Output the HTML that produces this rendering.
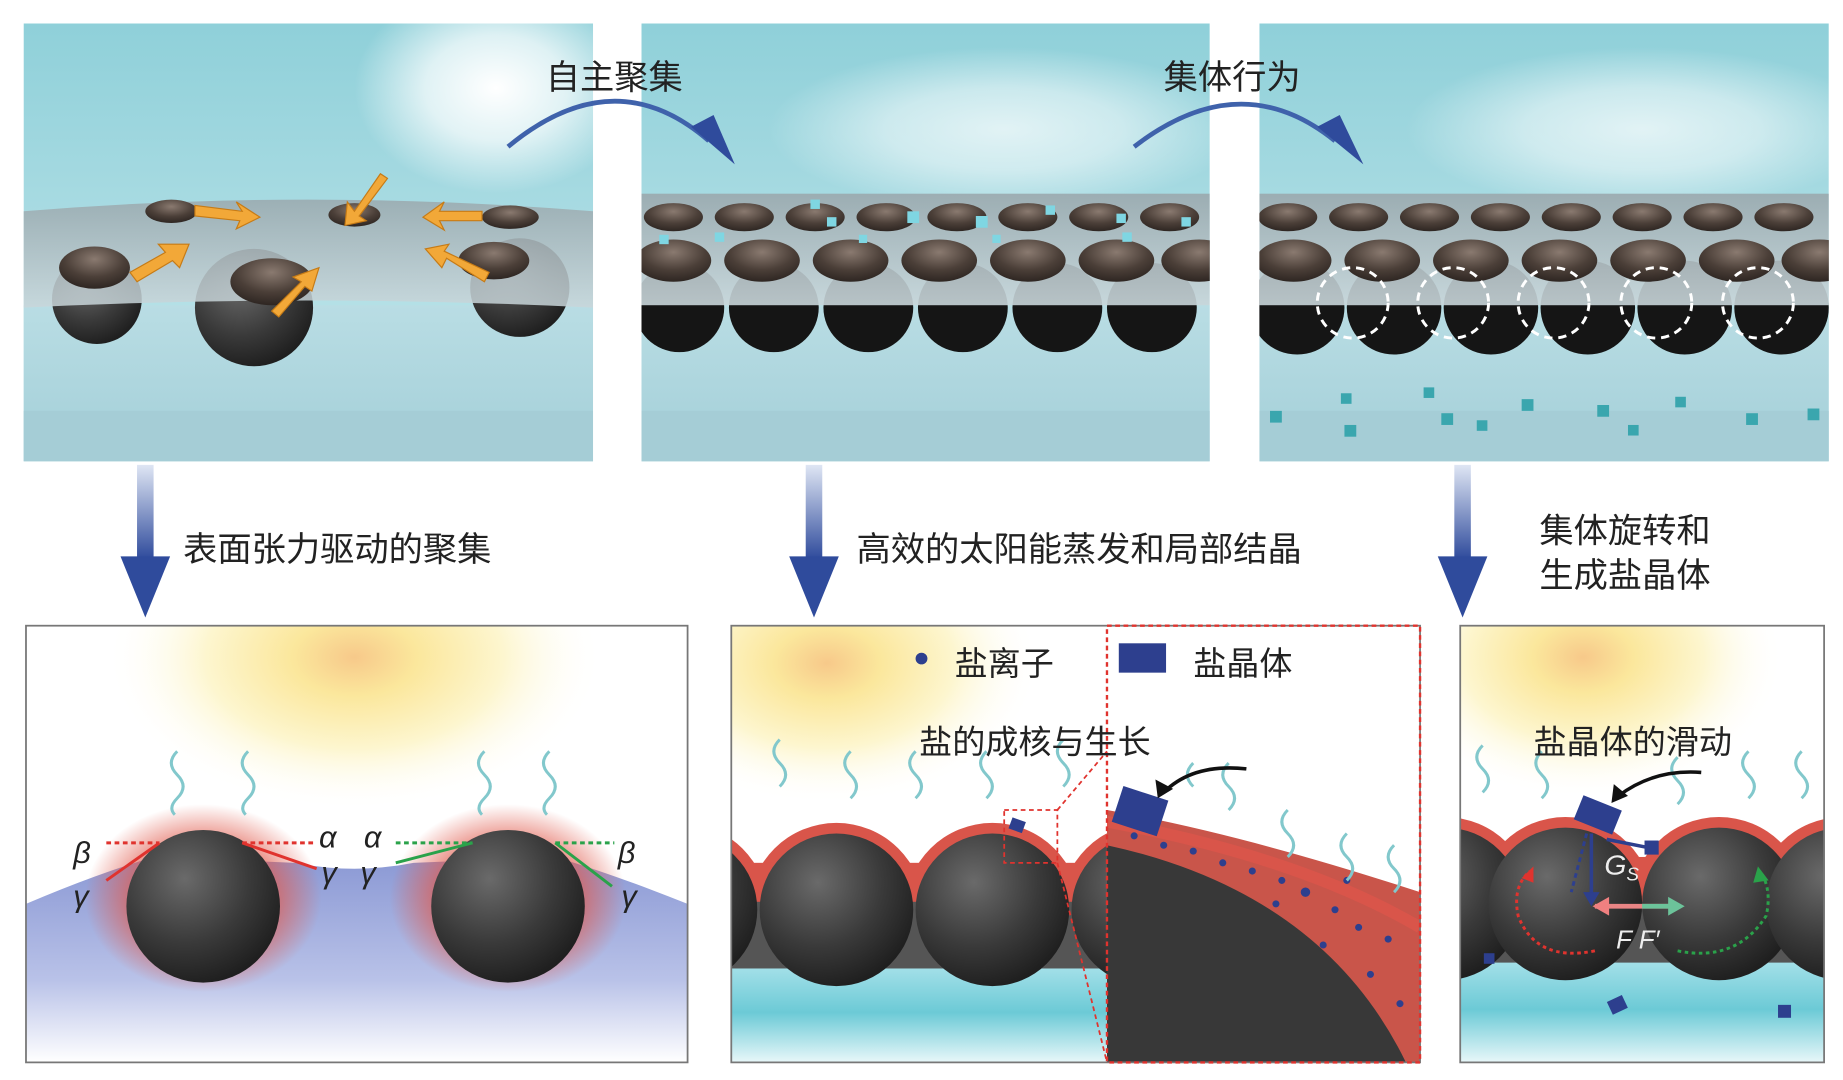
<!DOCTYPE html>
<html><head><meta charset="utf-8"><style>
html,body{margin:0;padding:0;background:#fff;width:1843px;height:1080px;overflow:hidden}
svg{display:block}
text{font-family:"Liberation Sans","Noto Sans CJK SC",sans-serif;fill:#222}
</style></head><body>
<svg width="1843" height="1080" viewBox="0 0 1560 920" preserveAspectRatio="none" xmlns="http://www.w3.org/2000/svg">
<defs>
<linearGradient id="sky" x1="0" y1="0" x2="0" y2="1"><stop offset="0" stop-color="#8fd0d9"/><stop offset="1" stop-color="#c9e9ee"/></linearGradient>
<radialGradient id="glow" cx="0.5" cy="0.5" r="0.5"><stop offset="0" stop-color="#fff" stop-opacity="1"/><stop offset="0.5" stop-color="#fff" stop-opacity="0.7"/><stop offset="1" stop-color="#fff" stop-opacity="0"/></radialGradient>
<linearGradient id="under" x1="0" y1="0" x2="0" y2="1"><stop offset="0" stop-color="#b9dde4"/><stop offset="1" stop-color="#a3cfd8"/></linearGradient>
<linearGradient id="band" x1="0" y1="0" x2="0" y2="1"><stop offset="0" stop-color="#9aa8ad"/><stop offset="1" stop-color="#c9d6da"/></linearGradient>
<radialGradient id="ball" cx="0.38" cy="0.32" r="0.7"><stop offset="0" stop-color="#6a6a6a"/><stop offset="0.6" stop-color="#3a3a3a"/><stop offset="1" stop-color="#1f1f1f"/></radialGradient>
<radialGradient id="dome" cx="0.5" cy="0.3" r="0.7"><stop offset="0" stop-color="#8a7a70"/><stop offset="0.6" stop-color="#4b3f38"/><stop offset="1" stop-color="#2e2622"/></radialGradient>
<radialGradient id="sun" cx="0.5" cy="0.5" r="0.5"><stop offset="0" stop-color="#f7c98a"/><stop offset="0.25" stop-color="#fbe79c"/><stop offset="0.6" stop-color="#fdf6cf"/><stop offset="1" stop-color="#fff" stop-opacity="0"/></radialGradient>
<linearGradient id="bw" x1="0" y1="0" x2="0" y2="1"><stop offset="0" stop-color="#8a98d4"/><stop offset="0.6" stop-color="#b9c2e8"/><stop offset="1" stop-color="#fff"/></linearGradient>
<linearGradient id="cy" x1="0" y1="0" x2="0" y2="1"><stop offset="0" stop-color="#a9e2ea"/><stop offset="0.5" stop-color="#6ccad6"/><stop offset="1" stop-color="#e8f7f9"/></linearGradient>
<radialGradient id="redg" cx="0.5" cy="0.5" r="0.5"><stop offset="0.55" stop-color="#e0584a" stop-opacity="0.8"/><stop offset="1" stop-color="#e0584a" stop-opacity="0"/></radialGradient>
<linearGradient id="darr" x1="0" y1="0" x2="0" y2="1"><stop offset="0" stop-color="#dfe6f4"/><stop offset="1" stop-color="#2f4b9c"/></linearGradient>
<clipPath id="c1"><rect x="20" y="20" width="482" height="373"/></clipPath>
<clipPath id="c2"><rect x="543" y="20" width="481" height="373"/></clipPath>
<clipPath id="c3"><rect x="1066" y="20" width="482" height="373"/></clipPath>
<clipPath id="b1"><rect x="22" y="533" width="560" height="372"/></clipPath>
<clipPath id="b2"><rect x="619" y="533" width="318" height="372"/></clipPath>
<clipPath id="b2z"><rect x="937" y="533" width="265" height="372"/></clipPath>
<clipPath id="b3"><rect x="1236" y="533" width="308" height="372"/></clipPath>
<clipPath id="top"><rect x="0" y="600" width="1560" height="168"/></clipPath>
</defs>

<g clip-path="url(#c1)">
<rect x="20" y="20" width="482" height="373" fill="url(#sky)"/>
<ellipse cx="420" cy="75" rx="120" ry="90" fill="url(#glow)"/>
<rect x="20" y="260" width="482" height="133" fill="url(#under)"/>
<rect x="20" y="350" width="482" height="43" fill="#a5cdd6"/>
<circle cx="82" cy="255" r="38" fill="url(#ball)"/>
<circle cx="215" cy="262" r="50" fill="url(#ball)"/>
<circle cx="440" cy="245" r="42" fill="url(#ball)"/>
<path d="M20 180 Q260 160 502 180 L502 262 Q260 250 20 262Z" fill="url(#band)" opacity="0.85"/>
<ellipse cx="145" cy="180" rx="22" ry="10" fill="url(#dome)"/>
<ellipse cx="300" cy="183" rx="22" ry="10" fill="url(#dome)"/>
<ellipse cx="432" cy="185" rx="24" ry="10" fill="url(#dome)"/>
<ellipse cx="80" cy="228" rx="30" ry="18" fill="url(#dome)"/>
<ellipse cx="230" cy="240" rx="35" ry="20" fill="url(#dome)"/>
<ellipse cx="418" cy="222" rx="30" ry="16" fill="url(#dome)"/>
<g fill="#f2a838" stroke="#c67b16" stroke-width="1">
<path d="M165 175 L205 180 L200 172 L220 185 L200 195 L203 188 L165 184Z"/>
<path d="M322 148 L300 180 L294 172 L292 192 L310 188 L304 184 L328 152Z"/>
<path d="M408 180 L372 180 L376 172 L358 185 L376 196 L372 188 L408 188Z"/>
<path d="M110 232 L140 215 L134 208 L160 208 L152 228 L146 222 L116 240Z"/>
<path d="M230 265 L255 240 L248 236 L270 228 L264 248 L258 244 L236 270Z"/>
<path d="M410 240 L378 220 L374 228 L360 212 L380 208 L376 214 L414 232Z"/>
</g>
</g>

<g clip-path="url(#c2)">
<rect x="543" y="20" width="481" height="373" fill="url(#sky)"/>
<ellipse cx="850" cy="110" rx="200" ry="70" fill="url(#glow)" opacity="0.7"/>
<rect x="543" y="260" width="481" height="133" fill="url(#under)"/>
<rect x="543" y="350" width="481" height="43" fill="#a5cdd6"/>
<g fill="#151515">
<circle cx="575" cy="262" r="38"/><circle cx="655" cy="262" r="38"/><circle cx="735" cy="262" r="38"/><circle cx="815" cy="262" r="38"/><circle cx="895" cy="262" r="38"/><circle cx="975" cy="262" r="38"/>
</g>
<rect x="543" y="165" width="481" height="95" fill="url(#band)" opacity="0.9"/>
<g fill="url(#dome)">
<ellipse cx="570" cy="185" rx="25" ry="12"/><ellipse cx="630" cy="185" rx="25" ry="12"/><ellipse cx="690" cy="185" rx="25" ry="12"/><ellipse cx="750" cy="185" rx="25" ry="12"/><ellipse cx="810" cy="185" rx="25" ry="12"/><ellipse cx="870" cy="185" rx="25" ry="12"/><ellipse cx="930" cy="185" rx="25" ry="12"/><ellipse cx="990" cy="185" rx="25" ry="12"/>
<ellipse cx="570" cy="222" rx="32" ry="18"/><ellipse cx="645" cy="222" rx="32" ry="18"/><ellipse cx="720" cy="222" rx="32" ry="18"/><ellipse cx="795" cy="222" rx="32" ry="18"/><ellipse cx="870" cy="222" rx="32" ry="18"/><ellipse cx="945" cy="222" rx="32" ry="18"/><ellipse cx="1015" cy="222" rx="32" ry="18"/>
</g>
<g fill="#7fd6e2"><rect x="558" y="200" width="8" height="8"/><rect x="605" y="198" width="8" height="8"/><rect x="686" y="170" width="8" height="8"/><rect x="700" y="185" width="8" height="8"/><rect x="768" y="180" width="10" height="10"/><rect x="826" y="184" width="10" height="10"/><rect x="885" y="175" width="8" height="8"/><rect x="945" y="182" width="8" height="8"/><rect x="1000" y="185" width="8" height="8"/><rect x="727" y="200" width="7" height="7"/><rect x="950" y="198" width="8" height="8"/><rect x="840" y="200" width="7" height="7"/></g>
</g>

<g clip-path="url(#c3)">
<rect x="1066" y="20" width="482" height="373" fill="url(#sky)"/>
<ellipse cx="1390" cy="110" rx="200" ry="70" fill="url(#glow)" opacity="0.7"/>
<rect x="1066" y="260" width="482" height="133" fill="url(#under)"/>
<rect x="1066" y="350" width="482" height="43" fill="#a5cdd6"/>
<g fill="#151515">
<circle cx="1098" cy="262" r="40"/><circle cx="1180" cy="262" r="40"/><circle cx="1262" cy="262" r="40"/><circle cx="1344" cy="262" r="40"/><circle cx="1426" cy="262" r="40"/><circle cx="1508" cy="262" r="40"/>
</g>
<rect x="1066" y="165" width="482" height="95" fill="url(#band)" opacity="0.9"/>
<g fill="url(#dome)">
<ellipse cx="1090" cy="185" rx="25" ry="12"/><ellipse cx="1150" cy="185" rx="25" ry="12"/><ellipse cx="1210" cy="185" rx="25" ry="12"/><ellipse cx="1270" cy="185" rx="25" ry="12"/><ellipse cx="1330" cy="185" rx="25" ry="12"/><ellipse cx="1390" cy="185" rx="25" ry="12"/><ellipse cx="1450" cy="185" rx="25" ry="12"/><ellipse cx="1510" cy="185" rx="25" ry="12"/>
<ellipse cx="1095" cy="222" rx="32" ry="18"/><ellipse cx="1170" cy="222" rx="32" ry="18"/><ellipse cx="1245" cy="222" rx="32" ry="18"/><ellipse cx="1320" cy="222" rx="32" ry="18"/><ellipse cx="1395" cy="222" rx="32" ry="18"/><ellipse cx="1470" cy="222" rx="32" ry="18"/><ellipse cx="1540" cy="222" rx="32" ry="18"/>
</g>
<g fill="none" stroke="#fff" stroke-width="2.5" stroke-dasharray="7 5">
<circle cx="1145" cy="258" r="30"/><circle cx="1230" cy="258" r="30"/><circle cx="1315" cy="258" r="30"/><circle cx="1402" cy="258" r="30"/><circle cx="1488" cy="258" r="30"/>
</g>
<g fill="#3aa6ae"><rect x="1075" y="350" width="10" height="10"/><rect x="1135" y="335" width="9" height="9"/><rect x="1138" y="362" width="10" height="10"/><rect x="1205" y="330" width="9" height="9"/><rect x="1220" y="352" width="10" height="10"/><rect x="1250" y="358" width="9" height="9"/><rect x="1288" y="340" width="10" height="10"/><rect x="1352" y="345" width="10" height="10"/><rect x="1418" y="338" width="9" height="9"/><rect x="1478" y="352" width="10" height="10"/><rect x="1530" y="348" width="10" height="10"/><rect x="1378" y="362" width="9" height="9"/></g>
</g>

<path d="M430 125 Q520 50 600 120" fill="none" stroke="#3f62ab" stroke-width="4"/>
<path d="M585 108 L622 140 L604 98Z" fill="#2f4b9c"/>
<path d="M960 125 Q1050 55 1130 120" fill="none" stroke="#3f62ab" stroke-width="4"/>
<path d="M1115 108 L1154 140 L1134 98Z" fill="#2f4b9c"/>
<text x="462" y="76" font-size="29">自主聚集</text>
<text x="985" y="76" font-size="29">集体行为</text>

<rect x="116" y="396" width="14" height="80" fill="url(#darr)"/>
<path d="M102 474 L144 474 L123 526Z" fill="#2f4b9c"/>
<rect x="682" y="396" width="14" height="80" fill="url(#darr)"/>
<path d="M668 474 L710 474 L689 526Z" fill="#2f4b9c"/>
<rect x="1231" y="396" width="14" height="80" fill="url(#darr)"/>
<path d="M1217 474 L1259 474 L1238 526Z" fill="#2f4b9c"/>
<text x="155" y="478" font-size="29">表面张力驱动的聚集</text>
<text x="725" y="478" font-size="29">高效的太阳能蒸发和局部结晶</text>
<text x="1303" y="462" font-size="29">集体旋转和</text>
<text x="1303" y="500" font-size="29">生成盐晶体</text>

<g clip-path="url(#b1)">
<rect x="22" y="533" width="560" height="372" fill="#fff"/>
<ellipse cx="300" cy="560" rx="210" ry="130" fill="url(#sun)"/>
<path d="M22 770 Q80 745 130 730 L250 735 Q300 745 350 735 L470 730 Q520 745 582 770 L582 905 L22 905Z" fill="url(#bw)"/>
<ellipse cx="172" cy="765" rx="100" ry="80" fill="url(#redg)"/>
<ellipse cx="430" cy="765" rx="100" ry="80" fill="url(#redg)"/>
<circle cx="172" cy="772" r="65" fill="url(#ball)"/>
<circle cx="430" cy="772" r="65" fill="url(#ball)"/>
</g>
<rect x="22" y="533" width="560" height="372" fill="none" stroke="#777" stroke-width="1.5"/>
<g fill="none" stroke="#82c8cc" stroke-width="2.5">
<path d="M150 640 q-10 10 0 20 q10 10 0 20 q-8 8 -2 14"/><path d="M210 640 q-10 10 0 20 q10 10 0 20 q-8 8 -2 14"/>
<path d="M410 640 q-10 10 0 20 q10 10 0 20 q-8 8 -2 14"/><path d="M465 640 q-10 10 0 20 q10 10 0 20 q-8 8 -2 14"/>
</g>
<g stroke-width="2.5">
<path d="M90 718 H135" stroke="#e0332e" stroke-dasharray="4 3"/><path d="M135 718 L90 750" stroke="#e0332e"/>
<path d="M205 718 H265" stroke="#e0332e" stroke-dasharray="4 3"/><path d="M205 718 L268 740" stroke="#e0332e"/>
<path d="M335 718 H400" stroke="#2aa24a" stroke-dasharray="4 3"/><path d="M400 718 L335 735" stroke="#2aa24a"/>
<path d="M470 718 H520" stroke="#2aa24a" stroke-dasharray="4 3"/><path d="M470 718 L518 755" stroke="#2aa24a"/>
</g>
<g font-family="Liberation Serif,serif" font-style="italic" font-size="26">
<text x="62" y="735">β</text><text x="62" y="772">γ</text>
<text x="270" y="722">α</text><text x="272" y="752">γ</text>
<text x="308" y="722">α</text><text x="305" y="752">γ</text>
<text x="523" y="735">β</text><text x="526" y="772">γ</text>
</g>

<g clip-path="url(#b2)">
<rect x="619" y="533" width="318" height="372" fill="#fff"/>
<ellipse cx="700" cy="565" rx="180" ry="120" fill="url(#sun)"/>
<rect x="619" y="820" width="318" height="85" fill="url(#cy)"/>
<rect x="619" y="740" width="318" height="85" fill="#555"/>
<g clip-path="url(#top)" fill="#d9554a">
<circle cx="576" cy="775" r="74"/><circle cx="708" cy="775" r="74"/><circle cx="840" cy="775" r="74"/><circle cx="972" cy="775" r="74"/>
<rect x="619" y="735" width="318" height="40"/>
</g>
<circle cx="576" cy="775" r="65" fill="url(#ball)"/>
<circle cx="708" cy="775" r="65" fill="url(#ball)"/>
<circle cx="840" cy="775" r="65" fill="url(#ball)"/>
<circle cx="972" cy="775" r="65" fill="url(#ball)"/>
<rect x="855" y="698" width="12" height="10" fill="#2d3f8e" transform="rotate(20 861 703)"/>
<rect x="850" y="690" width="45" height="45" fill="none" stroke="#e0332e" stroke-width="1.5" stroke-dasharray="4 3"/>
</g>
<g fill="none" stroke="#82c8cc" stroke-width="2.5">
<path d="M660 630 q-10 10 0 20 q10 10 0 20"/><path d="M720 640 q-10 10 0 20 q10 10 0 20"/><path d="M775 640 q-10 10 0 20 q10 10 0 20"/><path d="M835 640 q-10 10 0 20 q10 10 0 20"/><path d="M900 630 q-10 10 0 20 q10 10 0 20"/>
</g>
<g clip-path="url(#b2z)">
<rect x="937" y="533" width="265" height="372" fill="#fff"/>
<path d="M937 690 Q1050 710 1202 760 L1202 905 L937 905Z" fill="#c9554a"/>
<path d="M937 700 Q1100 730 1202 790" fill="none" stroke="#d9554a" stroke-width="10"/>
<path d="M937 720 Q1120 760 1190 905 L937 905Z" fill="#383838"/>
<g fill="#2d3f8e"><circle cx="960" cy="712" r="3"/><circle cx="985" cy="720" r="3"/><circle cx="1010" cy="725" r="3"/><circle cx="1035" cy="735" r="3"/><circle cx="1060" cy="742" r="3"/><circle cx="1085" cy="750" r="3"/><circle cx="1105" cy="760" r="4"/><circle cx="1130" cy="775" r="3"/><circle cx="1150" cy="790" r="3"/><circle cx="1175" cy="800" r="3"/><circle cx="1160" cy="830" r="3"/><circle cx="1185" cy="855" r="3"/><circle cx="1080" cy="770" r="3"/><circle cx="1120" cy="805" r="3"/><circle cx="1140" cy="750" r="3"/></g>
<rect x="945" y="675" width="40" height="32" fill="#2d3f8e" transform="rotate(18 965 691)"/>
<g fill="none" stroke="#82c8cc" stroke-width="2.5"><path d="M1040 650 q-10 10 0 20 q10 10 0 20"/><path d="M1090 690 q-10 10 0 20 q10 10 0 20"/><path d="M1140 710 q-10 10 0 20 q10 10 0 20"/><path d="M1180 720 q-10 10 0 20 q10 10 0 20"/><path d="M1010 650 q-10 10 0 20"/></g>
<path d="M1055 655 Q1010 650 985 675" fill="none" stroke="#111" stroke-width="3"/>
<path d="M980 680 L978 664 L993 672Z" fill="#111"/>
</g>
<rect x="619" y="533" width="583" height="372" fill="none" stroke="#777" stroke-width="1.5"/>
<rect x="937" y="533" width="265" height="372" fill="none" stroke="#e0332e" stroke-width="2" stroke-dasharray="4 3"/>
<path d="M895 690 L937 640 M895 735 L937 905" stroke="#e0332e" stroke-width="1.5" stroke-dasharray="4 3"/>
<circle cx="780" cy="561" r="5" fill="#2d3f8e"/>
<text x="808" y="575" font-size="28">盐离子</text>
<rect x="947" y="548" width="40" height="25" fill="#2d3f8e"/>
<text x="1010" y="575" font-size="28">盐晶体</text>
<text x="778" y="642" font-size="28">盐的成核与生长</text>

<g clip-path="url(#b3)">
<rect x="1236" y="533" width="308" height="372" fill="#fff"/>
<ellipse cx="1340" cy="560" rx="170" ry="120" fill="url(#sun)"/>
<rect x="1236" y="815" width="308" height="90" fill="url(#cy)"/>
<rect x="1236" y="740" width="308" height="80" fill="#555"/>
<g clip-path="url(#top)" fill="#d9554a">
<circle cx="1223" cy="770" r="74"/><circle cx="1325" cy="770" r="74"/><circle cx="1455" cy="770" r="74"/><circle cx="1560" cy="770" r="74"/>
<rect x="1236" y="730" width="308" height="40"/>
</g>
<circle cx="1223" cy="770" r="65" fill="url(#ball)"/>
<circle cx="1325" cy="770" r="65" fill="url(#ball)"/>
<circle cx="1455" cy="770" r="65" fill="url(#ball)"/>
<circle cx="1560" cy="770" r="65" fill="url(#ball)"/>
<g fill="#2d3f8e"><rect x="1335" y="683" width="35" height="22" transform="rotate(22 1352 694)"/><rect x="1392" y="716" width="12" height="12"/><rect x="1256" y="812" width="9" height="9"/><rect x="1362" y="850" width="14" height="12" transform="rotate(-25 1369 856)"/><rect x="1505" y="856" width="11" height="11"/></g>
<path d="M1347 710 L1347 765" stroke="#2d3f8e" stroke-width="3"/><path d="M1340 760 L1354 760 L1347 772Z" fill="#2d3f8e"/>
<path d="M1343 710 L1330 760" stroke="#2d3f8e" stroke-width="2.5" stroke-dasharray="4 3"/>
<path d="M1360 715 L1395 722" stroke="#2d3f8e" stroke-width="3"/>
<path d="M1350 772 L1420 772" stroke="#e98585" stroke-width="4"/><path d="M1362 764 L1348 772 L1362 780Z" fill="#f08080"/>
<path d="M1390 772 L1415 772" stroke="#6cc39a" stroke-width="4"/><path d="M1412 764 L1426 772 L1412 780Z" fill="#6cc39a"/>
<path d="M1350 810 Q1300 820 1285 780 Q1280 755 1295 742" fill="none" stroke="#e0332e" stroke-width="2.5" stroke-dasharray="3 3"/>
<path d="M1288 748 L1298 738 L1298 752Z" fill="#e0332e"/>
<path d="M1420 810 Q1470 820 1495 780 Q1500 758 1490 742" fill="none" stroke="#2aa24a" stroke-width="2.5" stroke-dasharray="3 3"/>
<path d="M1484 752 L1488 738 L1497 750Z" fill="#2aa24a"/>
<text x="1358" y="745" font-size="24" font-style="italic" style="fill:#eee">G<tspan font-size="16" dy="5">S</tspan></text>
<text x="1368" y="808" font-size="22" font-style="italic" style="fill:#eee">F  F′</text>
</g>
<g fill="none" stroke="#82c8cc" stroke-width="2.5">
<path d="M1255 635 q-10 10 0 20 q10 10 0 20"/><path d="M1305 640 q-10 10 0 20 q10 10 0 20"/><path d="M1420 645 q-10 10 0 20 q10 10 0 20"/><path d="M1480 640 q-10 10 0 20 q10 10 0 20"/><path d="M1525 640 q-10 10 0 20 q10 10 0 20"/>
</g>
<path d="M1440 658 Q1400 655 1370 678" fill="none" stroke="#111" stroke-width="3"/>
<path d="M1364 684 L1366 668 L1378 678Z" fill="#111"/>
<rect x="1236" y="533" width="308" height="372" fill="none" stroke="#777" stroke-width="1.5"/>
<text x="1298" y="642" font-size="28">盐晶体的滑动</text>
</svg>
</body></html>
